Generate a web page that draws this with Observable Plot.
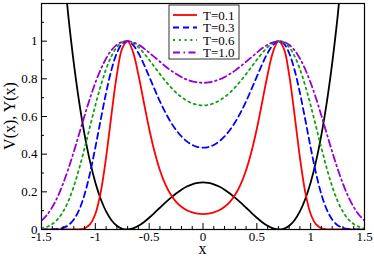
<!DOCTYPE html>
<html><head><meta charset="utf-8">
<script src="https://cdn.jsdelivr.net/npm/d3@7"></script>
<script src="https://cdn.jsdelivr.net/npm/@observablehq/plot@0.6"></script>
<style>body{margin:0;background:#fff}</style>
</head><body><div id="chart"></div>
<script>
const xs = [-1.5,-1.45,-1.4,-1.35,-1.3,-1.25,-1.2,-1.15,-1.1,-1.05,-1,-0.95,-0.9,-0.85,-0.8,-0.75,-0.7,-0.65,-0.6,-0.55,-0.5,-0.45,-0.4,-0.35,-0.3,-0.25,-0.2,-0.15,-0.1,-0.05,0,0.05,0.1,0.15,0.2,0.25,0.3,0.35,0.4,0.45,0.5,0.55,0.6,0.65,0.7,0.75,0.8,0.85,0.9,0.95,1,1.05,1.1,1.15,1.2,1.25,1.3,1.35,1.4,1.45,1.5];
const potV = [3.0625,2.568,2.1316,1.749,1.4161,1.1289,0.8836,0.6765,0.5041,0.363,0.25,0.162,0.0961,0.0495,0.0196,0.0039,0.0001,0.006,0.0196,0.039,0.0625,0.0885,0.1156,0.1425,0.1681,0.1914,0.2116,0.228,0.2401,0.2475,0.25,0.2475,0.2401,0.228,0.2116,0.1914,0.1681,0.1425,0.1156,0.0885,0.0625,0.039,0.0196,0.006,0.0001,0.0039,0.0196,0.0495,0.0961,0.162,0.25,0.363,0.5041,0.6765,0.8836,1.1289,1.4161,1.749,2.1316,2.568,3.0625];
const yT01 = [0,0,0,0,0,0,0,0.001,0.006,0.027,0.082,0.198,0.383,0.610,0.822,0.962,0.999,0.942,0.822,0.677,0.535,0.413,0.315,0.240,0.186,0.147,0.121,0.102,0.091,0.084,0.082,0.084,0.091,0.102,0.121,0.147,0.186,0.240,0.315,0.413,0.535,0.677,0.822,0.942,0.999,0.962,0.822,0.610,0.383,0.198,0.082,0.027,0.006,0.001,0,0,0,0,0,0,0];
const yT03 = [0,0,0.001,0.003,0.009,0.023,0.053,0.105,0.186,0.298,0.435,0.583,0.726,0.848,0.937,0.987,1.000,0.980,0.937,0.878,0.812,0.745,0.680,0.622,0.571,0.528,0.494,0.468,0.449,0.438,0.435,0.438,0.449,0.468,0.494,0.528,0.571,0.622,0.680,0.745,0.812,0.878,0.937,0.980,1.000,0.987,0.937,0.848,0.726,0.583,0.435,0.298,0.186,0.105,0.053,0.023,0.009,0.003,0.001,0,0];
const yT06 = [0.006,0.014,0.029,0.054,0.094,0.152,0.229,0.324,0.432,0.546,0.659,0.763,0.852,0.921,0.968,0.994,1.000,0.990,0.968,0.937,0.901,0.863,0.825,0.789,0.756,0.727,0.703,0.684,0.670,0.662,0.659,0.662,0.670,0.684,0.703,0.727,0.756,0.789,0.825,0.863,0.901,0.937,0.968,0.990,1.000,0.994,0.968,0.921,0.852,0.763,0.659,0.546,0.432,0.324,0.229,0.152,0.094,0.054,0.029,0.014,0.006];
const yT10 = [0.047,0.077,0.119,0.174,0.243,0.323,0.413,0.508,0.604,0.696,0.779,0.850,0.908,0.952,0.981,0.996,1.000,0.994,0.981,0.962,0.939,0.915,0.891,0.867,0.845,0.826,0.809,0.796,0.787,0.781,0.779,0.781,0.787,0.796,0.809,0.826,0.845,0.867,0.891,0.915,0.939,0.962,0.981,0.994,1.000,0.996,0.981,0.952,0.908,0.850,0.779,0.696,0.604,0.508,0.413,0.323,0.243,0.174,0.119,0.077,0.047];

const seriesLabels = ["T=0.1","T=0.3","T=0.6","T=1.0"];
const seriesValues = [yT01, yT03, yT06, yT10];
const seriesColors = ["#ff0000","#0000ff","#10a010","#9400d3"];
const seriesDash = [null,"6,4","2,3.8","7,3.5,1.5,3.5"];

const xMajor = [-1.5,-1,-0.5,0,0.5,1,1.5];
const xMinor = [-1.4,-1.3,-1.2,-1.1,-0.9,-0.8,-0.7,-0.6,-0.4,-0.3,-0.2,-0.1,0.1,0.2,0.3,0.4,0.6,0.7,0.8,0.9,1.1,1.2,1.3,1.4];
const yMajor = [0,0.2,0.4,0.6,0.8,1];
const yMinor = [0.1,0.3,0.5,0.7,0.9,1.1];

const W = 374, H = 257, mL = 41, mR = 10, mT = 3, mB = 28;
const fw = W - mL - mR, fh = H - mT - mB;
const FONT = "'Liberation Serif', 'Times New Roman', serif";

const potData = xs.map((x, i) => ({x, y: potV[i]}));
const lineMarks = seriesValues.map((vals, s) =>
  Plot.line(xs.map((x, i) => ({x, y: vals[i]})), {
    x: "x", y: "y", stroke: seriesColors[s], strokeWidth: 1.8,
    strokeDasharray: seriesDash[s], curve: "catmull-rom", clip: true
  })
);

const chart = Plot.plot({
  width: W, height: H,
  marginLeft: mL, marginRight: mR, marginTop: mT, marginBottom: mB,
  style: {fontFamily: FONT, fontSize: "13px", background: "#fff", color: "#000"},
  x: {domain: [-1.5, 1.5]},
  y: {domain: [0, 1.2]},
  marks: [
    Plot.line(potData, {x: "x", y: "y", stroke: "black", strokeWidth: 1.8, curve: "catmull-rom", clip: true}),
    ...lineMarks,
    Plot.tickX(xMajor, {x: d => d, insetTop: fh - 6, stroke: "black"}),
    Plot.tickX(xMinor, {x: d => d, insetTop: fh - 3, stroke: "black"}),
    Plot.tickY(yMajor, {y: d => d, insetRight: fw - 6, stroke: "black"}),
    Plot.tickY(yMinor, {y: d => d, insetRight: fw - 3, stroke: "black"}),
    Plot.axisX(xMajor, {tickSize: 0, tickPadding: 2, fontSize: 13, tickFormat: d => String(d), label: null}),
    Plot.axisY(yMajor, {tickSize: 0, tickPadding: 4, fontSize: 13, tickFormat: d => String(d), label: null}),
    Plot.frame({stroke: "black", strokeWidth: 1.2})
  ]
});

const svg = d3.select(chart);
svg.append("text").attr("x", mL + fw / 2).attr("y", 254).attr("text-anchor", "middle")
  .attr("font-family", FONT).attr("font-size", 16).text("x");
svg.append("text").attr("transform", `translate(15,${mT + fh / 2}) rotate(-90)`)
  .attr("text-anchor", "middle").attr("font-family", FONT).attr("font-size", 16).text("V(x), Y(x)");

const lg = svg.append("g");
lg.append("rect").attr("x", 169).attr("y", 5).attr("width", 70).attr("height", 54)
  .attr("fill", "white").attr("stroke", "#333").attr("stroke-width", 1);
seriesLabels.forEach((lab, i) => {
  const cy = 15 + i * 12.5;
  lg.append("line").attr("x1", 173).attr("x2", 197).attr("y1", cy).attr("y2", cy)
    .attr("stroke", seriesColors[i]).attr("stroke-width", 1.8)
    .attr("stroke-dasharray", seriesDash[i]);
  lg.append("text").attr("x", 203).attr("y", cy).attr("dy", "0.35em")
    .attr("text-anchor", "start").attr("font-family", FONT).attr("font-size", 13).text(lab);
});

document.getElementById("chart").appendChild(chart);
</script>
</body></html>
